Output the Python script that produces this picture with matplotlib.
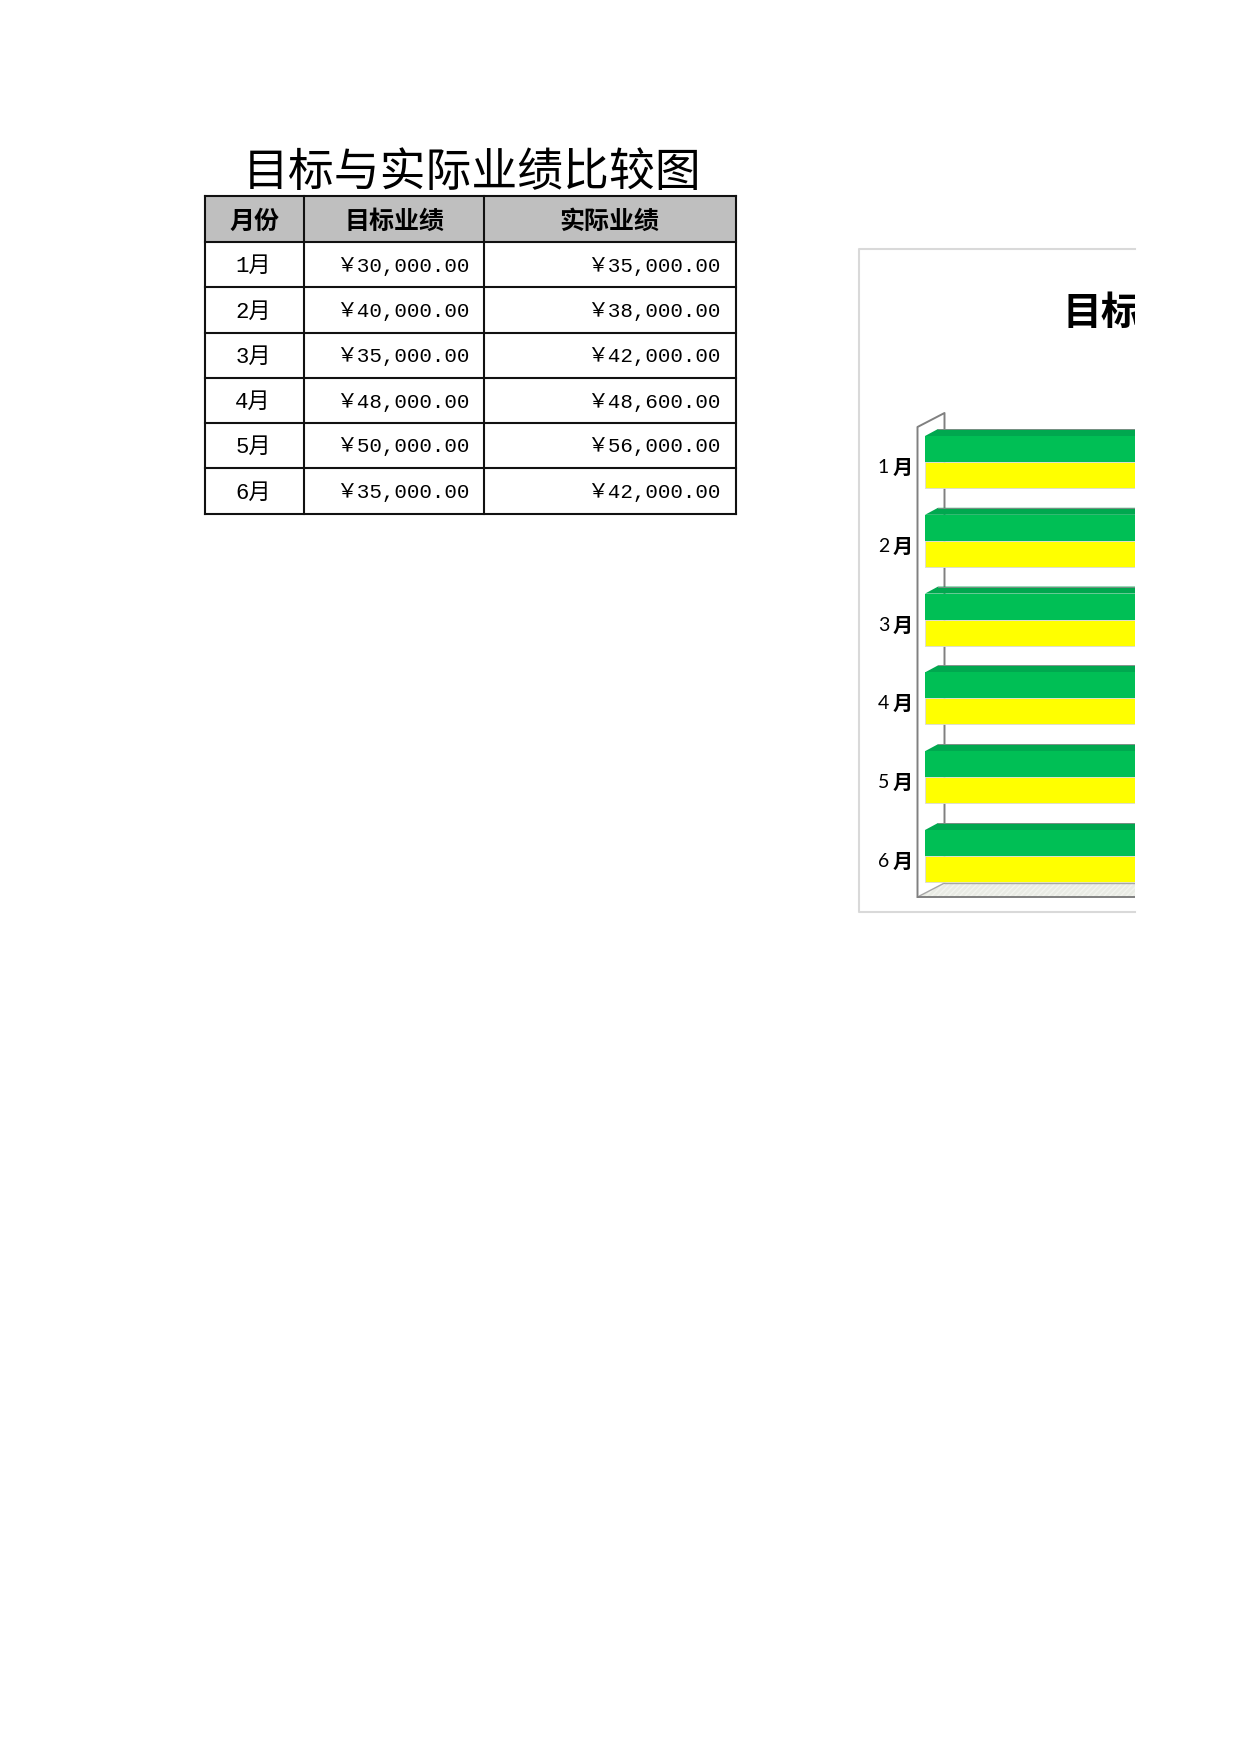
"""Target vs actual sales sheet: table on the left, cropped 3D-look bar chart on the right."""
import matplotlib
matplotlib.use('Agg')
import matplotlib.pyplot as plt
from matplotlib.patches import Rectangle
from matplotlib.transforms import Bbox

months = ['1月', '2月', '3月', '4月', '5月', '6月']
target = [30000, 40000, 35000, 48000, 50000, 35000]
actual = [35000, 38000, 42000, 48600, 56000, 42000]
headers = ['月份', '目标业绩', '实际业绩']
sheet_title = '目标与实际业绩比较图'
chart_title = '目标与实际业绩比较图'

W, H = 1240, 1754
CJK = ['Noto Sans CJK SC', 'DejaVu Sans']
CELL = ['Liberation Mono', 'Noto Sans CJK SC']
YUAN = '\uffe5'

# table grid, pixels
col_x = [205, 304, 484, 736]
row_y = [196, 242, 287, 333, 378, 423, 468, 514]
# the page is cut off here
crop_x = 1135


def draw_table(bg):
    bg.add_patch(Rectangle((col_x[0], row_y[0]), col_x[-1] - col_x[0], row_y[1] - row_y[0],
                           fc='#bfbfbf', ec='none'))
    for x in col_x:
        bg.plot([x, x], [row_y[0], row_y[-1]], color='#111111', lw=1.5, solid_capstyle='projecting')
    for y in row_y:
        bg.plot([col_x[0], col_x[-1]], [y, y], color='#111111', lw=1.5, solid_capstyle='projecting')

    bg.text(472, 173, sheet_title, family=CJK, fontsize=33,
            ha='center', va='center', weight='light')
    header_centre = [254, 394, 609]
    for cx, label in zip(header_centre, headers):
        bg.text(cx, row_y[0] + 26, label, family=CJK, fontsize=18, weight='bold',
                ha='center', va='center')
    for i, month in enumerate(months):
        cy = (row_y[i + 1] + row_y[i + 2]) / 2
        bg.text(253, cy + 2, month, family=CELL, fontsize=16, ha='center', va='center')
        bg.text(col_x[2] - 15, cy + 1.5, f'{YUAN}{target[i]:,.2f}', family=CELL, fontsize=15,
                ha='right', va='center')
        bg.text(col_x[3] - 16, cy + 1.5, f'{YUAN}{actual[i]:,.2f}', family=CELL, fontsize=15,
                ha='right', va='center')


def draw_frame(bg):
    left, top, bottom = 859, 249, 912
    bg.plot([crop_x, left, left, crop_x], [top, top, bottom, bottom], color='#d9d9d9', lw=1.5)
    t = bg.text(1063, 314, chart_title, family=CJK, fontsize=28, weight='bold',
                ha='left', va='center')
    t.set_clip_box(Bbox([[0, 0], [crop_x, H]]))
    t.set_clip_on(True)


def draw_chart(fig):
    # pixel box of the axes
    ax_l, ax_r, ax_t, ax_b = 895, crop_x, 405, 905
    ax = fig.add_axes([ax_l / W, 1 - ax_b / H, (ax_r - ax_l) / W, (ax_b - ax_t) / H])
    ax.patch.set_alpha(0)
    ax.axis('off')

    val_per_px = 100  # the chart is cropped, this only sets where the bars run off
    base_px = 925
    pitch = 78.8
    first_mid = 462
    ax.set_xlim((ax_l - base_px) * val_per_px, (ax_r - base_px) * val_per_px)
    ax.set_ylim((ax_b - first_mid) / pitch, (ax_t - first_mid) / pitch)

    bar_h = 26 / pitch
    dx = 13 * val_per_px
    dy = 7 / pitch

    # walls and floor
    wall_x = -7.5 * val_per_px
    wall_dx = 27 * val_per_px
    wall_dy = 14 / pitch
    wall_top = (427 - first_mid) / pitch
    floor_y = (897 - first_mid) / pitch
    xmax = ax.get_xlim()[1]
    ax.fill([wall_x, wall_x + wall_dx, xmax, xmax],
            [floor_y, floor_y - wall_dy, floor_y - wall_dy, floor_y],
            facecolor='#e9ebe4', edgecolor='#f3f4ef', hatch='//////', lw=0)
    ax.plot([wall_x, wall_x, wall_x + wall_dx, wall_x + wall_dx],
            [floor_y, wall_top, wall_top - wall_dy, floor_y - wall_dy],
            color='#808080', lw=1.4)
    ax.plot([wall_x + wall_dx, xmax], [floor_y - wall_dy] * 2, color='#a6a6a6', lw=1)
    ax.plot([wall_x + wall_dx, wall_x], [floor_y - wall_dy, floor_y], color='#a6a6a6', lw=1)
    ax.plot([wall_x, xmax], [floor_y] * 2, color='#808080', lw=1.4)

    ypos = list(range(len(months)))
    for i in ypos:
        top = i - bar_h
        ax.fill([0, dx, target[i] + dx, target[i]], [top, top - dy, top - dy, top],
                color='#00a84f', lw=0, zorder=3)
        ax.plot([dx, target[i] + dx], [top - dy, top - dy], color='#8c8c8c', lw=0.6, zorder=3)
    ax.barh([y - bar_h / 2 for y in ypos], target, height=bar_h, color='#00bf55', zorder=4)
    ax.barh([y + bar_h / 2 for y in ypos], actual, height=bar_h, color='#ffff00',
            edgecolor='#d9d9d9', linewidth=0.6, zorder=4)

    for i, month in zip(ypos, months):
        ax.annotate('月', (wall_x, i + 0.07), xytext=(-3.5, 0), textcoords='offset points',
                    family=CJK, fontsize=14.5, weight='bold', ha='right', va='center',
                    annotation_clip=False)
        ax.annotate(month[0], (wall_x, i + 0.07), xytext=(-20.5, 0), textcoords='offset points',
                    family=['Lato', 'DejaVu Sans'], fontsize=14, ha='right', va='center',
                    annotation_clip=False)


def main():
    fig = plt.figure(figsize=(W / 100, H / 100), dpi=100, facecolor='white')
    bg = fig.add_axes([0, 0, 1, 1])
    bg.set_xlim(0, W)
    bg.set_ylim(H, 0)
    bg.axis('off')

    draw_table(bg)
    draw_frame(bg)
    draw_chart(fig)

    fig.savefig('out.png', dpi=100, facecolor='white')


if __name__ == '__main__':
    main()
